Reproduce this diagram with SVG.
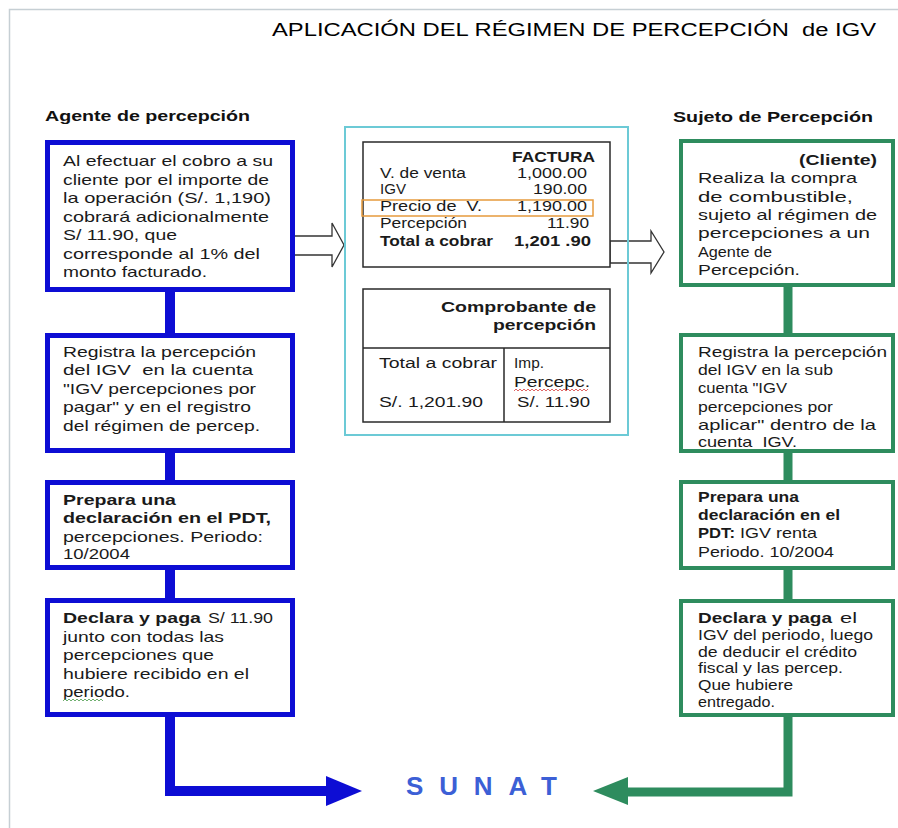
<svg xmlns="http://www.w3.org/2000/svg" width="898" height="828" viewBox="0 0 898 828">
<style>
text{font-family:"Liberation Sans",Arial,sans-serif;fill:#1a1a1a}
.t{font-size:15px}
.r{font-size:14.5px}
.m{font-size:14px}
.b{font-weight:bold}
.hd{font-size:15px;font-weight:bold;fill:#111}
.bl{fill:#fff;stroke:#0d0dd4;stroke-width:5}
.gr{fill:#fff;stroke:#2e8c5e;stroke-width:4}
.doc{fill:#fff;stroke:#2a2a2a;stroke-width:1.5}
.hollow{fill:none;stroke:#333;stroke-width:1.3;stroke-linejoin:miter}
</style>
<rect x="0" y="0" width="898" height="828" fill="#fff"/>
<path d="M9.5 828 V9.5 H898" fill="none" stroke="#c6cfd4" stroke-width="1.5"/>
<text x="272" y="36" font-size="18" textLength="604" lengthAdjust="spacingAndGlyphs" fill="#000" style="fill:#000">APLICACIÓN DEL RÉGIMEN DE PERCEPCIÓN&#160; de IGV</text>
<text class="hd" x="45" y="121" textLength="205" lengthAdjust="spacingAndGlyphs">Agente de percepción</text>
<text class="hd" x="673" y="122" textLength="200" lengthAdjust="spacingAndGlyphs">Sujeto de Percepción</text>

<g id="connectors">
<path d="M170 290 V791 H330" fill="none" stroke="#0d0dd4" stroke-width="10"/>
<polygon points="326,776 362,791 326,806" fill="#0d0dd4"/>
<path d="M788 285 V792 H626" fill="none" stroke="#2e8c5e" stroke-width="9"/>
<polygon points="628,777 593,791 628,805" fill="#2e8c5e"/>
<polygon class="hollow" points="293,236 332,236 332,223 344,245 332,267 332,255 293,255"/>
<polygon class="hollow" points="610,241 651,241 651,231 664,252 651,273 651,263 610,263"/>
</g>

<g id="middle">
<rect x="345" y="127" width="283" height="308" fill="none" stroke="#6ccad6" stroke-width="2"/>
</g>

<g id="factura">
<rect class="doc" x="363" y="142" width="247" height="125"/>
<rect x="362" y="200" width="231" height="16" fill="none" stroke="#e69a3c" stroke-width="1.5"/>
<text class="m b" x="512" y="162" textLength="83" lengthAdjust="spacingAndGlyphs">FACTURA</text>
<text class="m" x="380" y="178" textLength="86" lengthAdjust="spacingAndGlyphs">V. de venta</text>
<text class="m" x="517" y="178" textLength="70" lengthAdjust="spacingAndGlyphs">1,000.00</text>
<text class="m" x="380" y="194" textLength="26" lengthAdjust="spacingAndGlyphs">IGV</text>
<text class="m" x="533" y="194" textLength="54" lengthAdjust="spacingAndGlyphs">190.00</text>
<text class="m" x="380" y="211" textLength="102" lengthAdjust="spacingAndGlyphs">Precio de&#160; V.</text>
<text class="m" x="517" y="211" textLength="70" lengthAdjust="spacingAndGlyphs">1,190.00</text>
<text class="m" x="380" y="228" textLength="87" lengthAdjust="spacingAndGlyphs">Percepción</text>
<text class="m" x="547" y="228" textLength="42" lengthAdjust="spacingAndGlyphs">11.90</text>
<text class="m b" x="380" y="246" textLength="113" lengthAdjust="spacingAndGlyphs">Total a cobrar</text>
<text class="m b" x="514" y="246" textLength="77" lengthAdjust="spacingAndGlyphs">1,201 .90</text>
</g>

<g id="comprobante">
<rect class="doc" x="363" y="289" width="247" height="133"/>
<path d="M363 348 H610 M504 348 V422" stroke="#2a2a2a" stroke-width="1.5" fill="none"/>
<text class="m b" x="441" y="312" textLength="155" lengthAdjust="spacingAndGlyphs">Comprobante de</text>
<text class="m b" x="493" y="330" textLength="103" lengthAdjust="spacingAndGlyphs">percepción</text>
<text class="m" x="379" y="368" textLength="118" lengthAdjust="spacingAndGlyphs">Total a cobrar</text>
<text class="m" x="379" y="407" textLength="104" lengthAdjust="spacingAndGlyphs">S/. 1,201.90</text>
<text class="m" x="514" y="368" textLength="30" lengthAdjust="spacingAndGlyphs">Imp.</text>
<text class="m" x="514" y="387" textLength="76" lengthAdjust="spacingAndGlyphs">Percepc.</text>
<path d="M514 391 l2 -2 l2 2 l2 -2 l2 2 l2 -2 l2 2 l2 -2 l2 2 l2 -2 l2 2 l2 -2 l2 2 l2 -2 l2 2 l2 -2 l2 2 l2 -2 l2 2 l2 -2 l2 2 l2 -2 l2 2 l2 -2 l2 2 l2 -2 l2 2 l2 -2 l2 2 l2 -2 l2 2 l2 -2 l2 2 l2 -2 l2 2 l2 -2 l2 2 l2 -2" fill="none" stroke="#d84040" stroke-width="0.8"/>
<text class="m" x="517" y="407" textLength="73" lengthAdjust="spacingAndGlyphs">S/. 11.90</text>
</g>

<g id="agente-1">
<rect class="bl" x="47.5" y="142.5" width="245" height="147"/>
<text class="t" x="63" y="166" textLength="210" lengthAdjust="spacingAndGlyphs">Al efectuar el cobro a su</text>
<text class="t" x="63" y="184.5" textLength="206" lengthAdjust="spacingAndGlyphs">cliente por el importe de</text>
<text class="t" x="63" y="203" textLength="208" lengthAdjust="spacingAndGlyphs">la operación (S/. 1,190)</text>
<text class="t" x="63" y="221.5" textLength="206" lengthAdjust="spacingAndGlyphs">cobrará adicionalmente</text>
<text class="t" x="63" y="240" textLength="114" lengthAdjust="spacingAndGlyphs">S/ 11.90, que</text>
<text class="t" x="63" y="258.5" textLength="197" lengthAdjust="spacingAndGlyphs">corresponde al 1% del</text>
<text class="t" x="63" y="277" textLength="144" lengthAdjust="spacingAndGlyphs">monto facturado.</text>
</g>

<g id="agente-2">
<rect class="bl" x="47.5" y="335.5" width="245" height="115"/>
<text class="t" x="63" y="356.5" textLength="193" lengthAdjust="spacingAndGlyphs">Registra la percepción</text>
<text class="t" x="63" y="375" textLength="190" lengthAdjust="spacingAndGlyphs">del IGV&#160; en la cuenta</text>
<text class="t" x="63" y="393.5" textLength="193" lengthAdjust="spacingAndGlyphs">"IGV percepciones por</text>
<text class="t" x="63" y="412" textLength="188" lengthAdjust="spacingAndGlyphs">pagar" y en el registro</text>
<text class="t" x="63" y="431" textLength="197" lengthAdjust="spacingAndGlyphs">del régimen de percep.</text>
</g>

<g id="agente-3">
<rect class="bl" x="47.5" y="482.5" width="245" height="85"/>
<text class="t b" x="63" y="505" textLength="113" lengthAdjust="spacingAndGlyphs">Prepara una</text>
<text class="t b" x="63" y="523" textLength="208" lengthAdjust="spacingAndGlyphs">declaración en el PDT,</text>
<text class="t" x="63" y="541.5" textLength="200" lengthAdjust="spacingAndGlyphs">percepciones. Periodo:</text>
<text class="t" x="63" y="559" textLength="67" lengthAdjust="spacingAndGlyphs">10/2004</text>
</g>

<g id="agente-4">
<rect class="bl" x="47.5" y="600.5" width="245" height="114"/>
<text class="t b" x="63" y="623" textLength="138" lengthAdjust="spacingAndGlyphs">Declara y paga</text>
<text class="t" x="208" y="623" textLength="65" lengthAdjust="spacingAndGlyphs">S/ 11.90</text>
<text class="t" x="63" y="641.5" textLength="161" lengthAdjust="spacingAndGlyphs">junto con todas las</text>
<text class="t" x="63" y="660" textLength="151" lengthAdjust="spacingAndGlyphs">percepciones que</text>
<text class="t" x="63" y="679" textLength="186" lengthAdjust="spacingAndGlyphs">hubiere recibido en el</text>
<text class="t" x="63" y="697" textLength="67" lengthAdjust="spacingAndGlyphs">periodo.</text>
<path d="M63 701 l2 -2 l2 2 l2 -2 l2 2 l2 -2 l2 2 l2 -2 l2 2 l2 -2 l2 2 l2 -2 l2 2 l2 -2 l2 2 l2 -2 l2 2 l2 -2 l2 2 l2 -2 l2 2" fill="none" stroke="#4a9a4a" stroke-width="0.8"/>
</g>

<g id="sujeto-1">
<rect class="gr" x="681" y="141" width="212" height="144"/>
<text class="r b" x="799" y="165" textLength="78" lengthAdjust="spacingAndGlyphs">(Cliente)</text>
<text class="r" x="698" y="183" textLength="159" lengthAdjust="spacingAndGlyphs">Realiza la compra</text>
<text class="r" x="698" y="201.5" textLength="155" lengthAdjust="spacingAndGlyphs">de combustible,</text>
<text class="r" x="698" y="220" textLength="179" lengthAdjust="spacingAndGlyphs">sujeto al régimen de</text>
<text class="r" x="698" y="238" textLength="172" lengthAdjust="spacingAndGlyphs">percepciones a un</text>
<text class="r" x="698" y="256.5" textLength="74" lengthAdjust="spacingAndGlyphs">Agente de</text>
<text class="r" x="698" y="275" textLength="102" lengthAdjust="spacingAndGlyphs">Percepción.</text>
</g>

<g id="sujeto-2">
<rect class="gr" x="681" y="335" width="212" height="116"/>
<text class="r" x="698" y="357" textLength="189" lengthAdjust="spacingAndGlyphs">Registra la percepción</text>
<text class="r" x="698" y="375" textLength="135" lengthAdjust="spacingAndGlyphs">del IGV en la sub</text>
<text class="r" x="698" y="393" textLength="89" lengthAdjust="spacingAndGlyphs">cuenta "IGV</text>
<text class="r" x="698" y="412" textLength="135" lengthAdjust="spacingAndGlyphs">percepciones por</text>
<text class="r" x="698" y="430" textLength="178" lengthAdjust="spacingAndGlyphs">aplicar" dentro de la</text>
<text class="r" x="698" y="447" textLength="99" lengthAdjust="spacingAndGlyphs">cuenta&#160; IGV.</text>
</g>

<g id="sujeto-3">
<rect class="gr" x="681" y="482" width="212" height="86"/>
<text class="r b" x="698" y="502" textLength="101" lengthAdjust="spacingAndGlyphs">Prepara una</text>
<text class="r b" x="698" y="520" textLength="142" lengthAdjust="spacingAndGlyphs">declaración en el</text>
<text class="r b" x="698" y="538" textLength="37" lengthAdjust="spacingAndGlyphs">PDT:</text>
<text class="r" x="740" y="538" textLength="77" lengthAdjust="spacingAndGlyphs">IGV renta</text>
<text class="r" x="698" y="557" textLength="136" lengthAdjust="spacingAndGlyphs">Periodo. 10/2004</text>
</g>

<g id="sujeto-4">
<rect class="gr" x="681" y="601" width="212" height="114"/>
<text class="r b" x="698" y="623" textLength="134" lengthAdjust="spacingAndGlyphs">Declara y paga</text>
<text class="r" x="840" y="623" textLength="17" lengthAdjust="spacingAndGlyphs">el</text>
<text class="r" x="698" y="640" textLength="175" lengthAdjust="spacingAndGlyphs">IGV del periodo, luego</text>
<text class="r" x="698" y="657" textLength="159" lengthAdjust="spacingAndGlyphs">de deducir el crédito</text>
<text class="r" x="698" y="673" textLength="145" lengthAdjust="spacingAndGlyphs">fiscal y las percep.</text>
<text class="r" x="698" y="690" textLength="95" lengthAdjust="spacingAndGlyphs">Que hubiere</text>
<text class="r" x="698" y="707" textLength="77" lengthAdjust="spacingAndGlyphs">entregado.</text>
</g>

<g id="sunat">
<text x="406" y="795" font-size="26" font-weight="bold" style="fill:#3c5fd6" textLength="151" lengthAdjust="spacing">SUNAT</text>
</g>
</svg>
